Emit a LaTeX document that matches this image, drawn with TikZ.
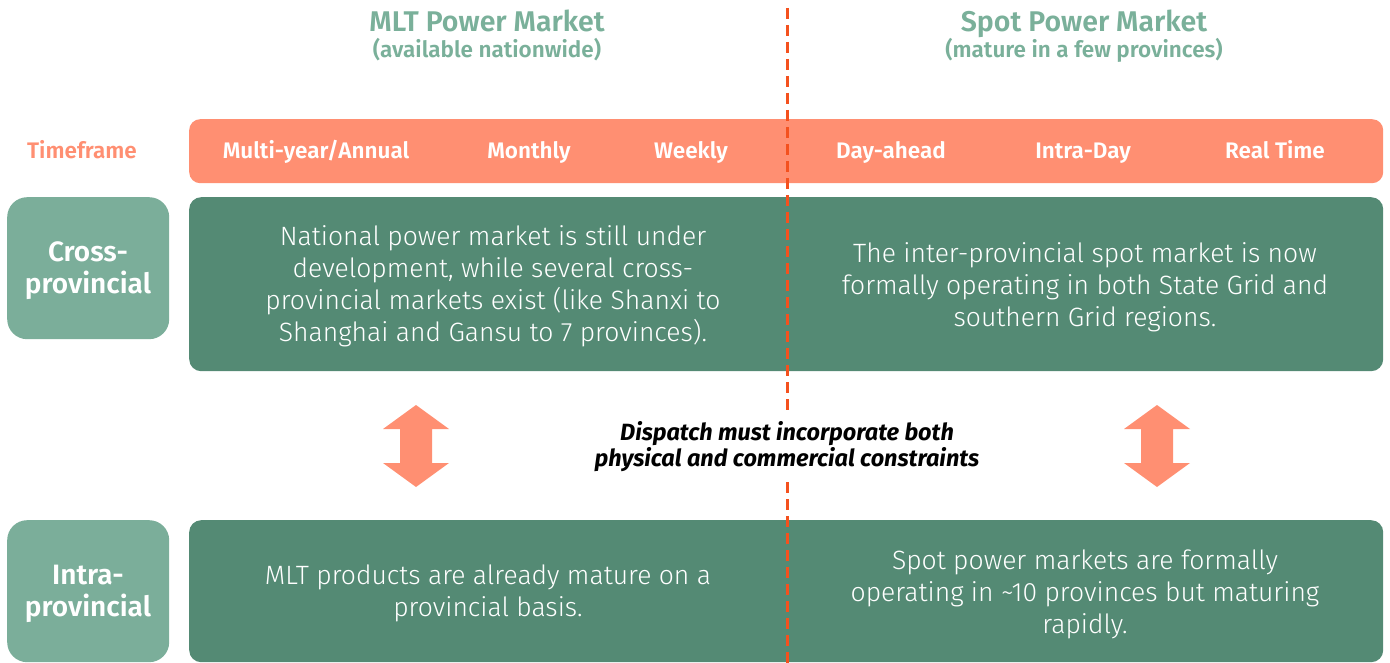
\documentclass[tikz,border=0pt]{standalone}
\usepackage{fontspec}
\setmainfont{Fira Sans}
\newfontfamily\lightfont{Fira Sans Light}
\newfontfamily\semifont{Fira Sans SemiBold}
\usetikzlibrary{calc}
\definecolor{salmon}{HTML}{FF8F72}
\definecolor{darkgreen}{HTML}{548A74}
\definecolor{lightgreen}{HTML}{7BAE9A}
\definecolor{titlegreen}{HTML}{7AB09A}
\definecolor{divider}{HTML}{F4511E}
\tikzset{
  title/.style={text=titlegreen, anchor=base, font=\semifont\fontsize{28.5}{32}\selectfont},
  subtitle/.style={text=titlegreen, anchor=base, font=\semifont\fontsize{22.5}{26}\selectfont},
  period/.style={text=white, anchor=base, font=\semifont\fontsize{22.5}{26}\selectfont},
  rowlabel/.style={fill=lightgreen, rounded corners=20pt, anchor=north west,
    minimum width=162pt, minimum height=142pt, inner sep=0pt},
  rowtext/.style={text=white, align=center, font=\semifont\fontsize{28}{32}\selectfont},
  panel/.style={fill=darkgreen, rounded corners=12pt, anchor=north west,
    minimum width=1194pt, inner sep=0pt},
  bodytext/.style={text=white, align=center, font=\lightfont\fontsize{26.5}{32}\selectfont},
  bigarrow/.style={fill=salmon},
  divline/.style={draw=divider, line width=3pt, dash pattern=on 11pt off 6pt},
}
\begin{document}
\begin{tikzpicture}[x=1pt, y=-1pt]
\useasboundingbox (0,0) rectangle (1390,663);

% column headings
\node[title] (mltT) at (487,32) {MLT Power Market};
\node[subtitle] (mltS) at (487,58) {(available nationwide)};
\node[title] (spotT) at (1084,32) {Spot Power Market};
\node[subtitle] (spotS) at (1084,58) {(mature in a few provinces)};

% timeframe bar
\node[text=salmon, anchor=base, font=\semifont\fontsize{22.5}{26}\selectfont] (tfl) at (82,159) {Timeframe};
\node[fill=salmon, rounded corners=11pt, anchor=north west, minimum width=1194pt,
  minimum height=64pt, inner sep=0pt] (bar) at (189,119) {};
\node[period] (p1) at (316,159) {Multi-year/Annual};
\node[period] (p2) at (529,159) {Monthly};
\node[period] (p3) at (691,159) {Weekly};
\node[period] (p4) at (891,159) {Day-ahead};
\node[period] (p5) at (1083,159) {Intra-Day};
\node[period] (p6) at (1275,159) {Real Time};

% cross-provincial row
\node[rowlabel] (crossbox) at (7,197) {};
\node[rowtext] (crosslbl) at (88,271) {Cross-\\provincial};
\node[panel, minimum height=174pt] (crosspanel) at (189,197) {};
\node[bodytext] (crossL) at (493,286) {National power market is still under\\development, while several cross-\\provincial markets exist (like Shanxi to\\Shanghai and Gansu to 7 provinces).};
\node[bodytext] (crossR) at (1085,287) {The inter-provincial spot market is now\\formally operating in both State Grid and\\southern Grid regions.};

% intra-provincial row
\node[rowlabel] (intrabox) at (7,520) {};
\node[rowtext] (intralbl) at (88,594) {Intra-\\provincial};
\node[panel, minimum height=142pt] (intrapanel) at (189,520) {};
\node[bodytext] (intraL) at (488,593) {MLT products are already mature on a\\provincial basis.};
\node[bodytext] (intraR) at (1085,594) {Spot power markets are formally\\operating in \textasciitilde 10 provinces but maturing\\rapidly.};

% double-headed block arrows between the rows
\foreach \cx/\nm in {416/arrL, 1157/arrR}{
  \fill[bigarrow] (\cx,405) -- (\cx+33,429) -- (\cx+16,429) -- (\cx+16,463)
    -- (\cx+33,463) -- (\cx,487) -- (\cx-33,463) -- (\cx-16,463)
    -- (\cx-16,429) -- (\cx-33,429) -- cycle;
}

% note in the middle
\node[align=center, font=\bfseries\itshape\fontsize{23.5}{26}\selectfont] (note) at (787,447)
  {Dispatch must incorporate both\\physical and commercial constraints};

% divider between MLT and spot markets
\coordinate (dtop) at (787,8);
\coordinate (dmid1) at (787,411);
\coordinate (dmid2) at (787,482);
\coordinate (dbot) at (787,663);
\draw[divline] (dtop) -- (dmid1);
\draw[divline] (dmid2) -- (dbot);
\end{tikzpicture}
\end{document}
